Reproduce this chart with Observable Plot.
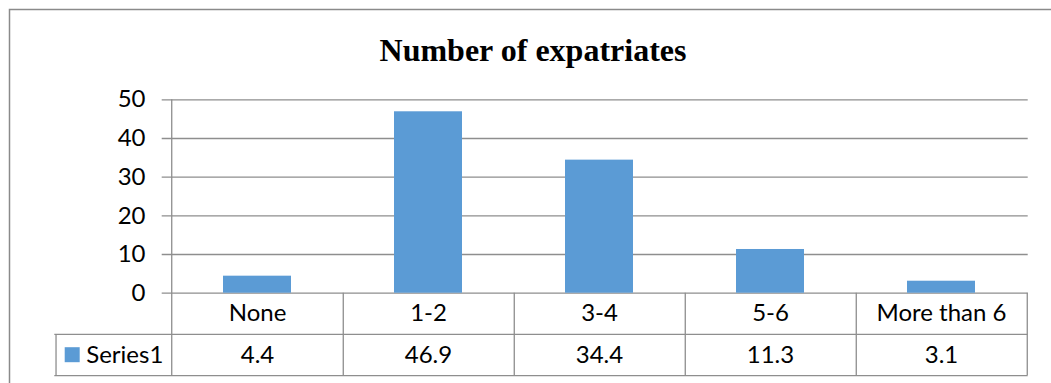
<!DOCTYPE html>
<html>
<head>
<meta charset="utf-8">
<script src="https://cdn.jsdelivr.net/npm/d3@7"></script>
<script src="https://cdn.jsdelivr.net/npm/@observablehq/plot@0.6"></script>
<style>
  html, body { margin: 0; padding: 0; background: #fff; overflow: hidden; }
  #chart svg { display: block; overflow: visible; }
</style>
</head>
<body>
<div id="chart"></div>
<script>
// Number of expatriates, share by group
const categories = ["None", "1-2", "3-4", "5-6", "More than 6"];
const values = [4.4, 46.9, 34.4, 11.3, 3.1];
const yTicks = [0, 10, 20, 30, 40, 50];
const seriesName = "Series1";
const title = "Number of expatriates";

const data = categories.map((c, i) => ({category: c, value: values[i]}));

// layout
const W = 1051, H = 383;
const mL = 170, mR = 23.3, mT = 99.3, mB = 90.3;
const frameW = W - mL - mR;
const frameH = H - mT - mB;
const step = frameW / categories.length;
const rowH = 41.2;          // data-table row height
const tableLeft = 54.3;     // left edge of the legend cell
const chartLeft = 9, chartTop = 9;

const gridColor = "#8e8e8e";
const barColor = "#5b9bd5";
const font = "Lato, 'Open Sans', sans-serif";

const chart = Plot.plot({
  width: W,
  height: H,
  marginLeft: mL,
  marginRight: mR,
  marginTop: mT,
  marginBottom: mB,
  style: {fontFamily: font, fontSize: "24px", color: "#000", background: "transparent"},
  x: {domain: categories, paddingInner: 0.6, paddingOuter: 0.3, axis: null},
  y: {domain: [0, 50], axis: null},
  marks: [
    // outer chart border (right and bottom edges fall outside the view)
    Plot.frame({stroke: "#8a8a8a", strokeWidth: 1.5, insetLeft: chartLeft - mL, insetTop: chartTop - mT, insetRight: -(mR + 30), insetBottom: -(mB + 30)}),
    // title
    Plot.text([title], {frameAnchor: "top", lineAnchor: "middle", dx: (chartLeft + 1056) / 2 - (mL + frameW / 2), dy: 50 - mT,
      fontFamily: "'Liberation Serif', 'Times New Roman', serif", fontWeight: "bold", fontSize: 32, fill: "#000"}),
    // gridlines with their outer tick marks
    Plot.ruleY(yTicks, {y: d => d, stroke: gridColor, strokeWidth: 1.3, insetLeft: -8.3}),
    // y tick labels
    Plot.text(yTicks, {y: d => d, text: d => String(d), frameAnchor: "left", lineAnchor: "middle", dx: -25, textAnchor: "end", fill: "#000"}),
    // bars
    Plot.barY(data, {x: "category", y: "value", fill: barColor}),
    // data table: horizontal lines
    Plot.ruleY([0], {stroke: gridColor, strokeWidth: 1.3, dy: 2 * rowH, insetLeft: tableLeft - mL}),
    Plot.ruleY([0], {stroke: gridColor, strokeWidth: 1.3, dy: rowH, insetLeft: tableLeft - mL}),
    // y axis line continuing down through the table
    Plot.ruleX(categories.slice(0, 1), {x: d => d, dx: -step / 2, stroke: gridColor, strokeWidth: 1.3, insetBottom: -2 * rowH}),
    // column dividers
    Plot.ruleX(categories, {x: d => d, dx: step / 2, stroke: gridColor, strokeWidth: 1.3, insetTop: frameH, insetBottom: -2 * rowH}),
    // legend cell left edge
    Plot.ruleX(categories.slice(0, 1), {x: d => d, dx: tableLeft - mL - step / 2, stroke: gridColor, strokeWidth: 1.3, insetTop: frameH + rowH, insetBottom: -2 * rowH}),
    // category labels
    Plot.text(data, {x: "category", text: "category", frameAnchor: "bottom", lineAnchor: "middle", dy: rowH / 2, fill: "#000"}),
    // values row
    Plot.text(data, {x: "category", text: d => d.value.toFixed(1), frameAnchor: "bottom", lineAnchor: "middle", dy: rowH * 1.5, fill: "#000"}),
    // legend key and series name
    Plot.dot([seriesName], {frameAnchor: "bottom-left", dx: 71.7 - mL, dy: rowH * 1.5 - 0.3, symbol: "square", r: 15 / Math.sqrt(Math.PI), fill: barColor, stroke: "none"}),
    Plot.text([seriesName], {frameAnchor: "bottom-left", lineAnchor: "middle", dx: 85.7 - mL, dy: rowH * 1.5, textAnchor: "start", fill: "#000"})
  ]
});

document.getElementById("chart").appendChild(chart);
</script>
</body>
</html>
